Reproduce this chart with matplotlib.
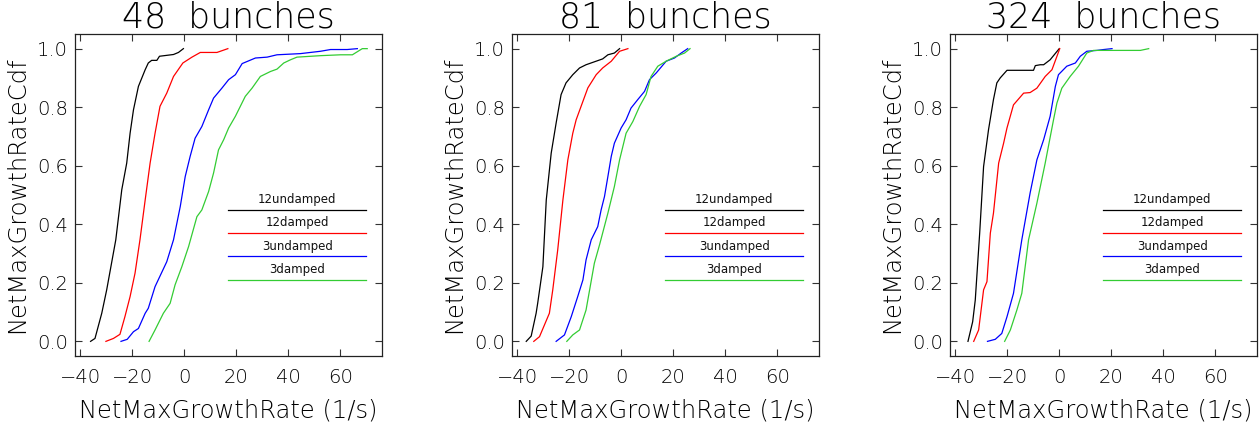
import matplotlib.pyplot as plt

# CDF of net max growth rate, read per bunch configuration
titles = ['48  bunches', '81  bunches', '324  bunches']
labels = ['12undamped', '12damped', '3undamped', '3damped']
colors = ['black', '#ff0000', '#0000ff', '#33cc33']

# 48 bunches
x48_12u = [-36.0, -34.3, -31.7, -29.8, -26.3, -24.0, -22.1, -20.8, -19.5, -17.6, -15.0, -13.8, -12.5, -10.5, -9.5, -4.1, -2.2, -0.3]
y48_12u = [0.0, 0.01, 0.096, 0.176, 0.347, 0.518, 0.609, 0.711, 0.791, 0.871, 0.928, 0.951, 0.96, 0.96, 0.974, 0.98, 0.987, 1.0]
x48_12d = [-30.1, -27.2, -24.7, -22.8, -20.8, -18.9, -17.0, -15.0, -13.1, -11.2, -9.3, -6.7, -4.1, -0.5, 3.0, 6.2, 12.6, 16.8]
y48_12d = [0.0, 0.01, 0.024, 0.084, 0.153, 0.233, 0.347, 0.483, 0.609, 0.711, 0.803, 0.848, 0.905, 0.951, 0.971, 0.987, 0.987, 1.0]
x48_3u = [-24.3, -21.9, -19.5, -17.6, -15.0, -13.8, -11.2, -6.7, -4.1, -1.5, 0.4, 2.3, 4.2, 6.8, 9.4, 11.3, 14.5, 17.1, 19.7, 22.3, 27.4, 31.9, 35.7, 44.7, 52.4, 56.3, 62.7, 66.6]
y48_3u = [0.0, 0.007, 0.033, 0.044, 0.096, 0.113, 0.187, 0.272, 0.347, 0.461, 0.563, 0.632, 0.694, 0.734, 0.791, 0.831, 0.865, 0.894, 0.911, 0.949, 0.968, 0.971, 0.979, 0.983, 0.991, 0.997, 0.997, 1.0]
x48_3d = [-13.5, -11.2, -8.0, -5.4, -3.5, -0.9, 1.7, 4.9, 6.8, 9.4, 11.3, 13.2, 15.2, 17.1, 19.7, 21.6, 23.5, 26.1, 29.3, 33.2, 35.7, 38.3, 40.9, 43.4, 52.4, 60.2, 64.7, 68.5, 70.4]
y48_3d = [0.0, 0.039, 0.096, 0.13, 0.193, 0.255, 0.324, 0.426, 0.449, 0.512, 0.575, 0.654, 0.689, 0.729, 0.769, 0.803, 0.837, 0.865, 0.905, 0.922, 0.93, 0.951, 0.962, 0.971, 0.976, 0.979, 0.979, 1.0, 1.0]

# 81 bunches
x81_12u = [-36.5, -34.6, -32.7, -32.1, -30.1, -28.8, -26.9, -25.0, -23.1, -21.2, -18.6, -16.0, -13.5, -7.1, -5.1, -2.6, -0.6]
y81_12u = [0.0, 0.018, 0.096, 0.13, 0.255, 0.483, 0.643, 0.746, 0.843, 0.883, 0.911, 0.934, 0.945, 0.965, 0.979, 0.985, 1.0]
x81_12d = [-33.6, -31.4, -29.5, -27.6, -26.3, -24.4, -22.4, -20.5, -18.6, -17.3, -15.4, -12.8, -9.6, -7.1, -3.8, -0.6, 2.6]
y81_12d = [0.0, 0.016, 0.056, 0.096, 0.176, 0.312, 0.483, 0.62, 0.711, 0.757, 0.803, 0.866, 0.911, 0.934, 0.957, 0.991, 1.0]
x81_3u = [-25.0, -21.8, -19.2, -16.7, -14.7, -13.5, -11.5, -9.0, -7.7, -6.4, -5.1, -3.8, -2.6, 0.0, 1.9, 3.8, 6.4, 9.0, 10.9, 13.5, 17.3, 20.5, 23.1, 25.6]
y81_3u = [0.0, 0.022, 0.084, 0.153, 0.21, 0.278, 0.347, 0.392, 0.449, 0.495, 0.563, 0.632, 0.677, 0.729, 0.757, 0.797, 0.826, 0.854, 0.894, 0.917, 0.957, 0.968, 0.985, 1.0]
x81_3d = [-20.9, -18.6, -16.0, -13.5, -10.3, -8.3, -5.1, -2.6, -0.6, 1.9, 4.5, 7.1, 9.6, 11.5, 14.1, 17.3, 21.2, 24.4, 26.5]
y81_3d = [0.0, 0.022, 0.039, 0.107, 0.267, 0.33, 0.438, 0.529, 0.62, 0.711, 0.751, 0.803, 0.843, 0.905, 0.94, 0.957, 0.974, 0.985, 1.0]

# 324 bunches
x324_12u = [-35.1, -33.3, -32.3, -30.6, -29.1, -27.2, -25.3, -24.0, -22.7, -20.1, -9.9, -9.2, -7.3, -6.0, -3.5, 0.0]
y324_12u = [0.0, 0.067, 0.141, 0.37, 0.597, 0.723, 0.826, 0.883, 0.9, 0.926, 0.926, 0.942, 0.945, 0.945, 0.962, 1.0]
x324_12d = [-32.9, -31.0, -29.1, -27.8, -26.5, -25.3, -23.3, -21.4, -20.1, -17.6, -13.7, -11.2, -8.6, -5.4, -2.8, 0.2]
y324_12d = [0.0, 0.039, 0.176, 0.204, 0.37, 0.438, 0.609, 0.677, 0.729, 0.808, 0.848, 0.85, 0.865, 0.905, 0.928, 1.0]
x324_3u = [-27.6, -24.6, -22.1, -20.1, -17.6, -14.4, -11.2, -8.6, -6.0, -3.5, -1.5, -0.3, 2.9, 6.2, 8.1, 10.6, 14.5, 17.1, 20.3]
y324_3u = [0.0, 0.007, 0.027, 0.084, 0.164, 0.347, 0.507, 0.62, 0.689, 0.769, 0.871, 0.911, 0.94, 0.951, 0.974, 0.991, 0.994, 0.997, 1.0]
x324_3d = [-21.0, -18.8, -16.3, -14.4, -11.8, -8.6, -5.4, -2.2, -0.9, 1.0, 4.2, 7.4, 10.6, 13.2, 31.2, 34.4]
y324_3d = [0.0, 0.039, 0.107, 0.164, 0.347, 0.472, 0.609, 0.757, 0.814, 0.865, 0.905, 0.94, 0.985, 0.994, 0.994, 1.0]

panels = [
    [(x48_12u, y48_12u), (x48_12d, y48_12d), (x48_3u, y48_3u), (x48_3d, y48_3d)],
    [(x81_12u, y81_12u), (x81_12d, y81_12d), (x81_3u, y81_3u), (x81_3d, y81_3d)],
    [(x324_12u, y324_12u), (x324_12d, y324_12d), (x324_3u, y324_3u), (x324_3d, y324_3d)],
]

plt.rcParams['font.family'] = ['DejaVu Sans']
plt.rcParams['font.weight'] = 'light'
plt.rcParams['axes.titleweight'] = 'light'
plt.rcParams['axes.labelweight'] = 'light'
txt_color = '#000000'

fig = plt.figure(figsize=(12.6, 4.23), dpi=100)
lefts = [0.0595, 0.4063, 0.754]

for i, series in enumerate(panels):
    ax = fig.add_axes([lefts[i], 0.1584, 0.2435, 0.7612])
    for (xs, ys), c in zip(series, colors):
        ax.plot(xs, ys, color=c, lw=0.9)

    # legend drawn as labelled line segments inside the axes
    for k, (lab, c) in enumerate(zip(labels, colors)):
        yl = 0.45 - 0.08 * k
        ax.plot([17, 70], [yl, yl], color=c, lw=0.9)
        ax.text(43.5, yl + 0.035, lab, ha='center', va='center',
                fontsize=8.5, fontweight='normal', color='#111111')

    ax.set_xlim(-42, 76)
    ax.set_ylim(-0.05, 1.05)
    ax.set_xticks([-40, -20, 0, 20, 40, 60])
    ax.set_yticks([0.0, 0.2, 0.4, 0.6, 0.8, 1.0])
    ax.set_yticklabels(['0.0', '0.2', '0.4', '0.6', '0.8', '1.0'])
    ax.tick_params(direction='in', top=True, right=True, length=5, width=0.8,
                   labelsize=14, labelcolor=txt_color, color='#333333')
    ax.tick_params(axis='x', pad=9)
    ax.tick_params(axis='y', pad=5)
    for sp in ax.spines.values():
        sp.set_linewidth(0.9)
        sp.set_color('#222222')

    ax.set_title(titles[i], fontsize=25, color=txt_color, pad=5)
    ax.set_xlabel('NetMaxGrowthRate (1/s)', fontsize=17.5, color=txt_color, labelpad=8)
    ax.set_ylabel('NetMaxGrowthRateCdf', fontsize=17.5, color=txt_color)
    ax.yaxis.set_label_coords(-0.15, 0.5)

fig.savefig('out.png', dpi=100)
